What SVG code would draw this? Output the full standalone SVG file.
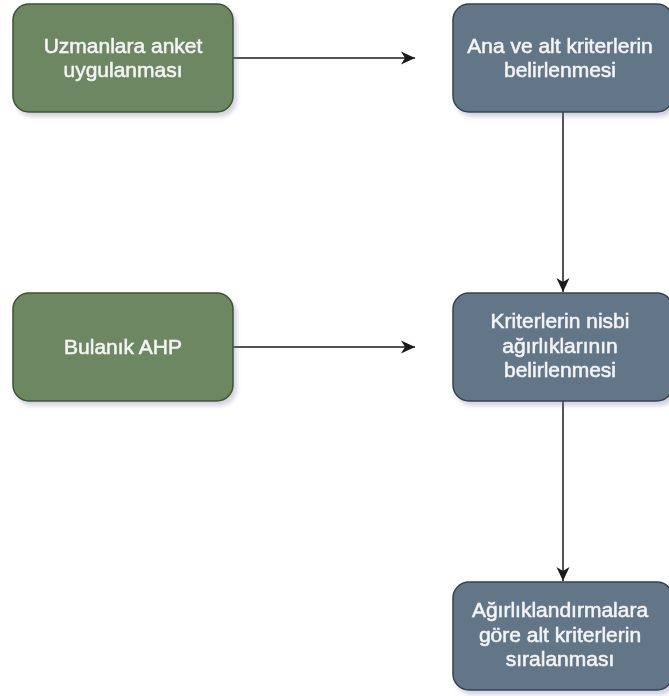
<svg xmlns="http://www.w3.org/2000/svg" width="669" height="696" viewBox="0 0 669 696">
<defs>
<filter id="sh" x="-10%" y="-10%" width="130%" height="140%">
<feGaussianBlur in="SourceAlpha" stdDeviation="2"/>
<feOffset dx="3" dy="4" result="b"/>
<feFlood flood-color="#8080a0" flood-opacity="0.35"/>
<feComposite in2="b" operator="in"/>
<feMerge><feMergeNode/><feMergeNode in="SourceGraphic"/></feMerge>
</filter>
<marker id="ah" viewBox="0 0 14 14" refX="14" refY="7" markerWidth="14" markerHeight="14" markerUnits="userSpaceOnUse" orient="auto">
<path d="M0,0.5 L14,7 L0,13.5 L4,7 Z" fill="#1a1a1a"/>
</marker>
<style>
.g{fill:#6d8764;stroke:#3a5431;stroke-width:1.5}
.b{fill:#647687;stroke:#314354;stroke-width:1.5}
text{font-family:"Liberation Sans",Arial,sans-serif;font-size:21px;fill:#f4f4f4;text-anchor:middle;stroke:#f4f4f4;stroke-width:0.55}
.c{fill:none;stroke:#1a1a1a;stroke-width:1.5}
</style>
</defs>
<g id="connectors">
<path class="c" d="M233,58 L415,58" marker-end="url(#ah)"/>
<path class="c" d="M233,347 L415,347" marker-end="url(#ah)"/>
<path class="c" d="M563,112 L563,292" marker-end="url(#ah)"/>
<path class="c" d="M563,401 L563,581" marker-end="url(#ah)"/>
</g>
<g id="n1" filter="url(#sh)">
<rect class="g" x="13" y="4" width="220" height="108" rx="16"/>
<text x="123" y="52.5">Uzmanlara anket</text>
<text x="123" y="77">uygulanması</text>
</g>
<g id="n2" filter="url(#sh)">
<rect class="b" x="453" y="4" width="220" height="108" rx="16"/>
<text x="560" y="52.5">Ana ve alt kriterlerin</text>
<text x="560" y="77">belirlenmesi</text>
</g>
<g id="n3" filter="url(#sh)">
<rect class="g" x="13" y="293" width="220" height="108" rx="16"/>
<text x="123" y="354">Bulanık AHP</text>
</g>
<g id="n4" filter="url(#sh)">
<rect class="b" x="453" y="293" width="220" height="108" rx="16"/>
<text x="560" y="328">Kriterlerin nisbi</text>
<text x="560" y="352.5">ağırlıklarının</text>
<text x="560" y="377">belirlenmesi</text>
</g>
<g id="n5" filter="url(#sh)">
<rect class="b" x="453" y="582" width="220" height="108" rx="16"/>
<text x="560" y="617">Ağırlıklandırmalara</text>
<text x="560" y="641.5">göre alt kriterlerin</text>
<text x="560" y="666">sıralanması</text>
</g>
</svg>
